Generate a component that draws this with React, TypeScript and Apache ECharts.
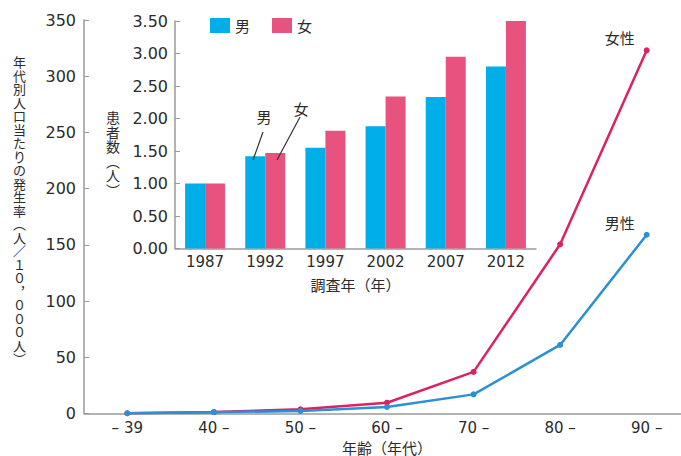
import React, { useEffect, useRef } from "react";
import * as echarts from "echarts";

const ageCategories = ["– 39", "40 –", "50 –", "60 –", "70 –", "80 –", "90 –"];
const femaleRate = [0.2, 1.3, 3.7, 9.6, 37, 150.5, 323];
const maleRate = [0.2, 1.2, 2.2, 5.8, 17, 61, 159];

const surveyYears = ["1987", "1992", "1997", "2002", "2007", "2012"];
const malePatients = [1.0, 1.42, 1.55, 1.88, 2.33, 2.8];
const femalePatients = [1.0, 1.47, 1.81, 2.34, 2.95, 3.5];

const mainYTitle = "年代別人口当たりの発生率︵人／１０︐０００人︶";
const insetYTitle = "患者数︵人︶";

const FONT = "DejaVu Sans, 'Noto Sans CJK JP', sans-serif";
const JFONT = "'Noto Sans CJK JP', sans-serif";
const TEXT = "#2b2b2b";
const AXIS = "#9a9a9a";

export default function App() {
  const ref = useRef<HTMLDivElement>(null);
  useEffect(() => {
    if (!ref.current) return;
    const chart = echarts.init(ref.current, null, { renderer: "svg" });
    const lastIdx = ageCategories.length - 1;
    const endLabel = (text: string) => ({
      show: true,
      position: "top",
      offset: [-27, 3],
      formatter: text,
      fontSize: 15,
      fontFamily: JFONT,
      color: TEXT,
    });
    chart.setOption({
      animation: false,
      backgroundColor: "#ffffff",
      textStyle: { fontFamily: FONT },
      grid: [
        { left: 84, top: 20, width: 606, height: 393.5, outerBoundsMode: "none", containLabel: false },
        { left: 175, top: 21, width: 361, height: 227.5, outerBoundsMode: "none", containLabel: false },
      ],
      legend: {
        data: ["男", "女"],
        left: 205,
        top: 13,
        itemWidth: 20,
        itemHeight: 15,
        itemGap: 22,
        icon: "rect",
        textStyle: { fontSize: 15, fontFamily: JFONT, color: TEXT },
      },
      xAxis: [
        {
          type: "category",
          gridIndex: 0,
          data: ageCategories,
          boundaryGap: true,
          axisLine: { lineStyle: { color: AXIS, width: 1.5 } },
          axisTick: { inside: true, alignWithLabel: true, length: 6, lineStyle: { color: AXIS } },
          axisLabel: { fontSize: 15, color: TEXT, margin: 7, fontFamily: FONT },
          name: "年齢（年代）",
          nameLocation: "middle",
          nameGap: 23,
          nameTextStyle: {
            fontSize: 15,
            lineHeight: 15,
            color: TEXT,
            fontFamily: JFONT,
            verticalAlign: "top",
          },
        },
        {
          type: "category",
          gridIndex: 1,
          data: surveyYears,
          boundaryGap: true,
          axisLine: { lineStyle: { color: AXIS, width: 1.5 } },
          axisTick: { inside: true, length: 5, lineStyle: { color: AXIS } },
          axisLabel: { fontSize: 15, color: TEXT, margin: 6, fontFamily: FONT },
          name: "調査年（年）",
          nameLocation: "middle",
          nameGap: 28,
          nameTextStyle: { fontSize: 15, color: TEXT, fontFamily: JFONT, verticalAlign: "top" },
        },
      ],
      yAxis: [
        {
          type: "value",
          gridIndex: 0,
          min: 0,
          max: 350,
          interval: 50,
          splitLine: { show: false },
          axisLine: { show: true, lineStyle: { color: AXIS, width: 1.5 } },
          axisTick: { show: true, inside: true, length: 5, lineStyle: { color: AXIS } },
          axisLabel: { fontSize: 16, color: TEXT, margin: 8, fontFamily: FONT },
        },
        {
          type: "value",
          gridIndex: 1,
          min: 0,
          max: 3.5,
          interval: 0.5,
          splitLine: { show: false },
          axisLine: { show: true, lineStyle: { color: AXIS, width: 1.5 } },
          axisTick: { show: true, inside: true, length: 5, lineStyle: { color: AXIS } },
          axisLabel: {
            fontSize: 16,
            color: TEXT,
            margin: 7,
            fontFamily: FONT,
            formatter: (v: number) => v.toFixed(2),
          },
        },
      ],
      series: [
        {
          name: "男",
          type: "bar",
          xAxisIndex: 1,
          yAxisIndex: 1,
          data: malePatients,
          barWidth: 20,
          barGap: "0%",
          itemStyle: { color: "#00aee8" },
        },
        {
          name: "女",
          type: "bar",
          xAxisIndex: 1,
          yAxisIndex: 1,
          data: femalePatients,
          barWidth: 20,
          barGap: "0%",
          itemStyle: { color: "#e8527f" },
        },
        {
          name: "女性",
          type: "line",
          xAxisIndex: 0,
          yAxisIndex: 0,
          data: femaleRate.map((v, i) =>
            i === lastIdx ? { value: v, label: endLabel("女性") } : v
          ),
          symbol: "circle",
          symbolSize: 6,
          lineStyle: { color: "#dc2361", width: 2.5 },
          itemStyle: { color: "#dc2361" },
          z: 3,
        },
        {
          name: "男性",
          type: "line",
          xAxisIndex: 0,
          yAxisIndex: 0,
          data: maleRate.map((v, i) =>
            i === lastIdx ? { value: v, label: endLabel("男性") } : v
          ),
          symbol: "circle",
          symbolSize: 6,
          lineStyle: { color: "#2b90d6", width: 2.5 },
          itemStyle: { color: "#2b90d6" },
          z: 4,
        },
      ],
      graphic: [
        {
          type: "text",
          left: 13,
          top: 55,
          style: {
            text: mainYTitle.split("").join("\n"),
            font: `13px ${JFONT}`,
            lineHeight: 13.5,
            fill: TEXT,
            align: "center",
          },
        },
        {
          type: "text",
          left: 106,
          top: 110,
          style: {
            text: insetYTitle.split("").join("\n"),
            font: `14px ${JFONT}`,
            lineHeight: 14.5,
            fill: TEXT,
            align: "center",
          },
        },
        {
          type: "text",
          x: 264,
          y: 116,
          style: {
            text: "男",
            font: `15px ${JFONT}`,
            fill: TEXT,
            align: "center",
            verticalAlign: "middle",
          },
        },
        {
          type: "text",
          x: 301,
          y: 108,
          style: {
            text: "女",
            font: `15px ${JFONT}`,
            fill: TEXT,
            align: "center",
            verticalAlign: "middle",
          },
        },
        {
          type: "line",
          shape: { x1: 263, y1: 132, x2: 253, y2: 160 },
          style: { stroke: "#333", lineWidth: 1.2 },
          z: 10,
        },
        {
          type: "line",
          shape: { x1: 300, y1: 117, x2: 277, y2: 160 },
          style: { stroke: "#333", lineWidth: 1.2 },
          z: 10,
        },
      ],
    });
    return () => chart.dispose();
  }, []);
  return (
    <div
      ref={ref}
      style={{ position: "fixed", left: 0, top: 0, width: 681, height: 456 }}
    />
  );
}
